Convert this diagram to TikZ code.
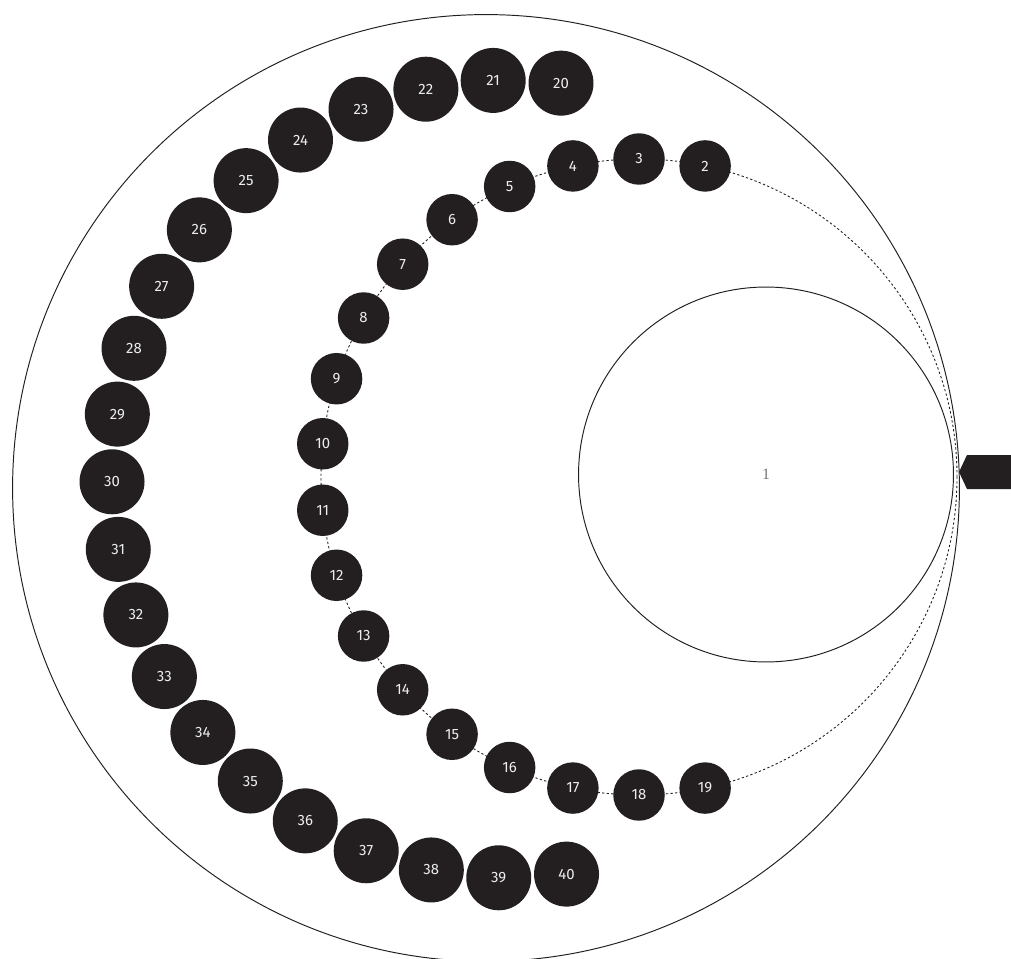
\documentclass[tikz,border=0pt]{standalone}
\usepackage{fontspec}
\setmainfont{Fira Sans}
\newfontfamily\hubfont{Liberation Serif}
\definecolor{ink}{HTML}{231F20}
\definecolor{paper}{HTML}{EDEDED}
\tikzset{
  ring/.style={draw=ink,line width=0.55pt},
  trail/.style={draw=ink,line width=0.5pt,dash pattern=on 1.3pt off 1.3pt},
  pip/.style={circle,fill=ink,text=paper,inner sep=0pt,minimum size=1.03cm,font=\fontsize{8.5}{10}\selectfont},
  bead/.style={circle,fill=ink,text=paper,inner sep=0pt,minimum size=1.3cm,font=\fontsize{8.5}{10}\selectfont}
}
\begin{document}
\begin{tikzpicture}[x=0.02cm,y=0.02cm]
\useasboundingbox (0,0) rectangle (1011,958);
\node[ring,circle,inner sep=0pt,minimum size=18.94cm] (rim) at (486,470) {};
\node[ring,circle,inner sep=0pt,minimum size=7.5cm,text=black!55,font=\hubfont\fontsize{9}{10}\selectfont] (hub) at (766,483.5) {1};
\draw[trail] (639,481) circle (318);
\fill[ink] (959,486) -- (967,503) -- (1011,503) -- (1011,469) -- (967,469) -- cycle;
\node[pip] (p2) at ([shift={(639,481)}]78:318) {2};
\node[pip] (p3) at ([shift={(639,481)}]90:318) {3};
\node[pip] (p4) at ([shift={(639,481)}]102:318) {4};
\node[pip] (p5) at ([shift={(639,481)}]114:318) {5};
\node[pip] (p6) at ([shift={(639,481)}]126:318) {6};
\node[pip] (p7) at ([shift={(639,481)}]138:318) {7};
\node[pip] (p8) at ([shift={(639,481)}]150:318) {8};
\node[pip] (p9) at ([shift={(639,481)}]162:318) {9};
\node[pip] (p10) at ([shift={(639,481)}]174:318) {10};
\node[pip] (p11) at ([shift={(639,481)}]186:318) {11};
\node[pip] (p12) at ([shift={(639,481)}]198:318) {12};
\node[pip] (p13) at ([shift={(639,481)}]210:318) {13};
\node[pip] (p14) at ([shift={(639,481)}]222:318) {14};
\node[pip] (p15) at ([shift={(639,481)}]234:318) {15};
\node[pip] (p16) at ([shift={(639,481)}]246:318) {16};
\node[pip] (p17) at ([shift={(639,481)}]258:318) {17};
\node[pip] (p18) at ([shift={(639,481)}]270:318) {18};
\node[pip] (p19) at ([shift={(639,481)}]282:318) {19};
\node[bead] (b20) at ([shift={(511,479)}]82.8:399) {20};
\node[bead] (b21) at ([shift={(511,479)}]92.56:399) {21};
\node[bead] (b22) at ([shift={(511,479)}]102.32:399) {22};
\node[bead] (b23) at ([shift={(511,479)}]112.08:399) {23};
\node[bead] (b24) at ([shift={(511,479)}]121.84:399) {24};
\node[bead] (b25) at ([shift={(511,479)}]131.6:399) {25};
\node[bead] (b26) at ([shift={(511,479)}]141.36:399) {26};
\node[bead] (b27) at ([shift={(511,479)}]151.12:399) {27};
\node[bead] (b28) at ([shift={(511,479)}]160.88:399) {28};
\node[bead] (b29) at ([shift={(511,479)}]170.64:399) {29};
\node[bead] (b30) at ([shift={(511,479)}]180.4:399) {30};
\node[bead] (b31) at ([shift={(511,479)}]190.16:399) {31};
\node[bead] (b32) at ([shift={(511,479)}]199.92:399) {32};
\node[bead] (b33) at ([shift={(511,479)}]209.68:399) {33};
\node[bead] (b34) at ([shift={(511,479)}]219.44:399) {34};
\node[bead] (b35) at ([shift={(511,479)}]229.2:399) {35};
\node[bead] (b36) at ([shift={(511,479)}]238.96:399) {36};
\node[bead] (b37) at ([shift={(511,479)}]248.72:399) {37};
\node[bead] (b38) at ([shift={(511,479)}]258.48:399) {38};
\node[bead] (b39) at ([shift={(511,479)}]268.24:399) {39};
\node[bead] (b40) at ([shift={(511,479)}]278:399) {40};
\end{tikzpicture}
\end{document}
